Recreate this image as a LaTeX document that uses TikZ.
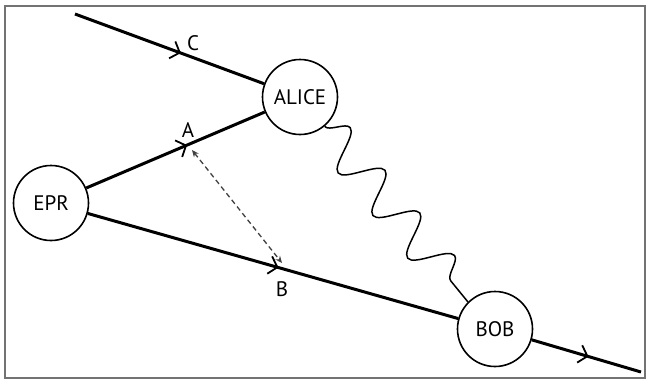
\documentclass[tikz,border=0pt]{standalone}
\usepackage{fontspec}
\setmainfont{PT Sans}
\usetikzlibrary{arrows.meta,decorations.markings,decorations.pathmorphing}
\tikzset{
  party/.style={circle,draw=black,line width=1.6pt,minimum size=75pt,inner sep=0pt,font=\fontsize{21}{24}\selectfont,fill=white},
  beam/.style={line width=3pt,
    postaction={decorate,decoration={markings,mark=at position #1 with {\arrow{Straight Barb[length=8pt,width=18pt,line width=1.8pt]}}}}},
  beam/.default=0.55,
  lbl/.style={font=\fontsize{21}{24}\selectfont},
  wave/.style={line width=1.5pt,decorate,decoration={snake,segment length=55pt,amplitude=19pt}},
  corr/.style={dash pattern=on 5pt off 3.5pt,line width=1.3pt,draw=black!75,{Stealth[length=7pt,width=6pt]}-{Stealth[length=7pt,width=6pt]}},
  frame/.style={draw=black!55,line width=1.6pt}
}
\begin{document}
\begin{tikzpicture}[x=1pt,y=-1pt]
\useasboundingbox (0,0) rectangle (647,381);
\draw[frame] (5,6) rectangle (645,378);
\node[party] (epr) at (51,203) {EPR};
\node[party] (alice) at (300,97) {ALICE};
\node[party] (bob) at (495,329) {BOB};
\coordinate (cstart) at (75,14);
\coordinate (bend) at (641,372);
\coordinate (da) at (192,150);
\coordinate (db) at (282,263);
\draw[beam=0.56] (cstart) -- (alice);
\draw[beam=0.565] (epr) -- (alice);
\draw[beam=0.515] (epr) -- (bob);
\draw[beam=0.52] (bob) -- (bend);
\draw[corr] (da) -- (db);
\draw[wave] (alice.-50) -- (bob.135);
\node[lbl] (lc) at (193,43) {C};
\node[lbl] (la) at (188,130) {A};
\node[lbl] (lb) at (282,289) {B};
\end{tikzpicture}
\end{document}
